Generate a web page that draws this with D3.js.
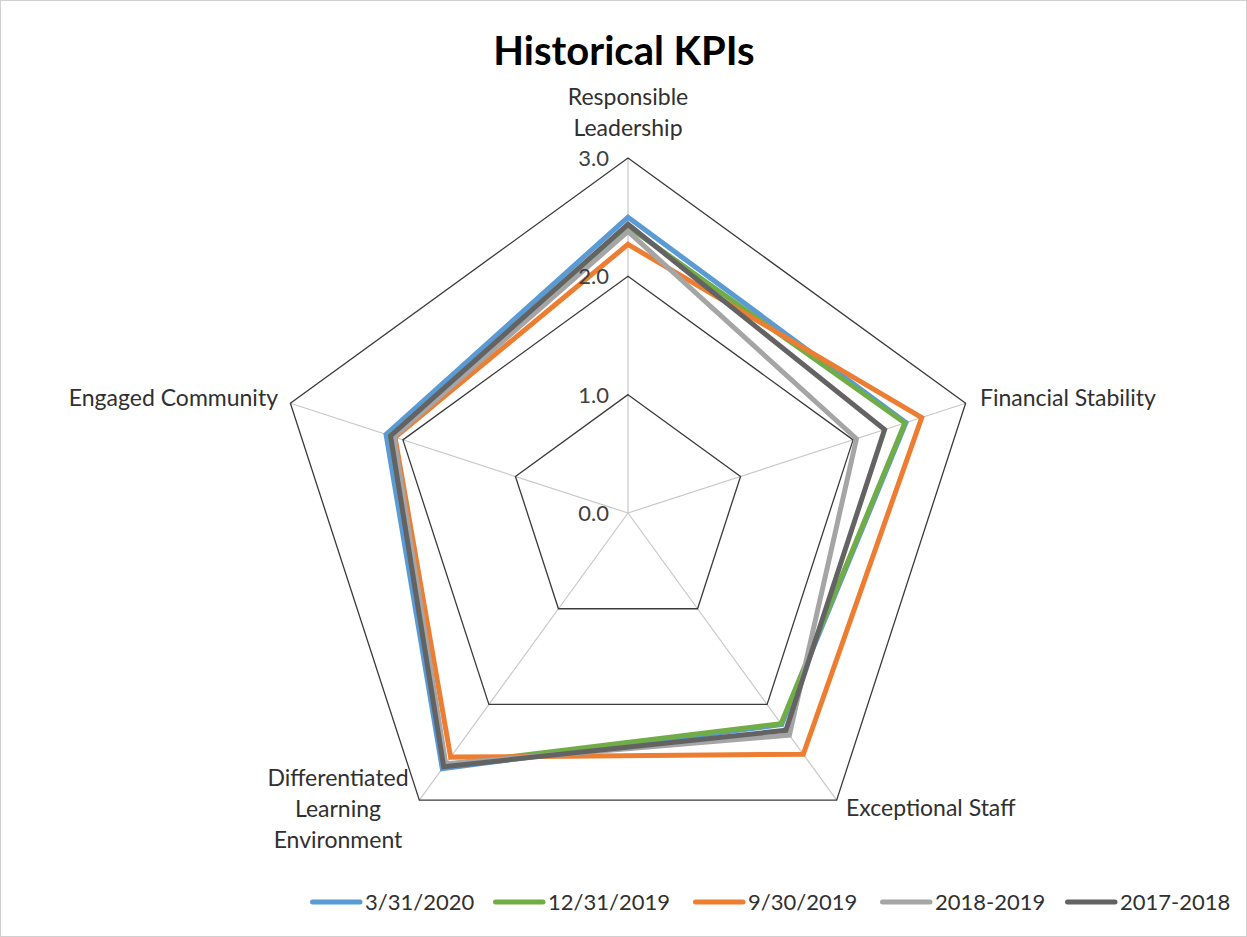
<!DOCTYPE html>
<html><head><meta charset="utf-8">
<script src="https://cdn.jsdelivr.net/npm/d3@7"></script>
<style>body{margin:0;background:#fff}svg{display:block}text{font-family:Lato,"Open Sans",sans-serif}</style>
</head><body>
<script>
const categories = ["Responsible Leadership","Financial Stability","Exceptional Staff","Differentiated Learning Environment","Engaged Community"];
const seriesNames = ["3/31/2020","12/31/2019","9/30/2019","2018-2019","2017-2018"];
const s2020q1 = [2.50, 2.47, 2.21, 2.67, 2.15];
const s2019q4 = [2.42, 2.46, 2.20, 2.63, 2.11];
const s2019q3 = [2.27, 2.61, 2.52, 2.55, 2.07];
const s2018_19 = [2.38, 2.03, 2.32, 2.62, 2.08];
const s2017_18 = [2.44, 2.28, 2.27, 2.65, 2.11];
const tickValues = [0, 1, 2, 3];
const tickLabels = ["0.0","1.0","2.0","3.0"];
const colors = ["#5B9BD5","#70AD47","#ED7D31","#A5A5A5","#636363"];
const seriesValues = [s2020q1, s2019q4, s2019q3, s2018_19, s2017_18];

const W = 1247, H = 937, cx = 628, cy = 513;
const svg = d3.select("body").append("svg").attr("width", W).attr("height", H);
svg.append("rect").attr("x",0.5).attr("y",0.5).attr("width",W-1).attr("height",H-1)
  .attr("fill","#fff").attr("stroke","#d0d0d0");

const r = d3.scaleLinear().domain([0,3]).range([0,355]);
const ang = d3.scalePoint().domain(categories.concat(["_end"])).range([0, 2*Math.PI]);
const pt = (c, v) => [cx + r(v)*Math.sin(ang(c)), cy - r(v)*Math.cos(ang(c))];

// spokes
categories.forEach(c => {
  const [x,y] = pt(c,3);
  svg.append("line").attr("x1",cx).attr("y1",cy).attr("x2",x).attr("y2",y)
    .attr("stroke","#c8c8c8").attr("stroke-width",1.2);
});
// rings
tickValues.filter(t=>t>0).forEach(t => {
  svg.append("polygon").attr("points", categories.map(c=>pt(c,t).join(",")).join(" "))
    .attr("fill","none").attr("stroke","#3a3a3a").attr("stroke-width",1.3);
});

// series
const line = d3.line().curve(d3.curveLinearClosed);
seriesValues.forEach((vals,i) => {
  svg.append("path").attr("d", line(categories.map((c,j)=>pt(c, vals[j]))))
    .attr("fill","none").attr("stroke",colors[i]).attr("stroke-width",5)
    .attr("stroke-linejoin","miter");
});

// tick labels
tickValues.forEach((t,i) => {
  svg.append("text").attr("x", cx-19).attr("y", cy - r(t) + 8)
    .attr("text-anchor","end").attr("font-size",22).attr("fill","#404040").text(tickLabels[i]);
});

// category labels
const labelSpec = [
  {lines:["Responsible","Leadership"], x:628, y:105, anchor:"middle"},
  {lines:["Financial Stability"], x:980, y:406, anchor:"start"},
  {lines:["Exceptional Staff"], x:846, y:816, anchor:"start"},
  {lines:["Differentiated","Learning","Environment"], x:338, y:786, anchor:"middle"},
  {lines:["Engaged Community"], x:278, y:406, anchor:"end"}
];
labelSpec.forEach(l => {
  const t = svg.append("text").attr("x",l.x).attr("y",l.y).attr("text-anchor",l.anchor)
    .attr("font-size",23).attr("fill","#303030");
  l.lines.forEach((s,k) => t.append("tspan").attr("x",l.x).attr("dy", k===0?0:31).text(s));
});

// title
svg.append("text").attr("x",624).attr("y",65).attr("text-anchor","middle")
  .attr("font-size",40).attr("font-weight","bold").attr("fill","#000").text("Historical KPIs");

// legend
const legX = [310, 493, 693, 880, 1065];
seriesNames.forEach((n,i) => {
  const g = svg.append("g").attr("transform",`translate(${legX[i]},902)`);
  g.append("line").attr("x1",2.5).attr("x2",50).attr("y1",0).attr("y2",0)
    .attr("stroke",colors[i]).attr("stroke-width",5).attr("stroke-linecap","round");
  g.append("text").attr("x",55).attr("y",8).attr("font-size",22).attr("fill","#303030").text(n);
});
</script>
</body></html>
